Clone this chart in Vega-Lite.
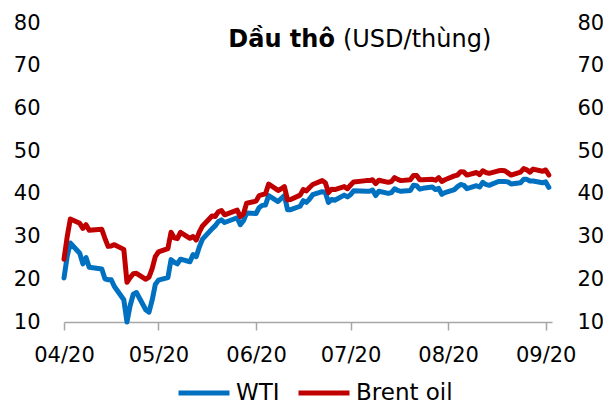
{
  "$schema": "https://vega.github.io/schema/vega-lite/v6.json",
  "width": 488,
  "height": 299,
  "autosize": {"type": "none"},
  "padding": {"left": 64, "top": 23, "right": 51, "bottom": 83},
  "background": "white",
  "config": {
    "view": {"stroke": null},
    "font": "DejaVu Sans",
    "axis": {"labelFont": "DejaVu Sans", "labelColor": "#000000", "grid": false, "title": null},
    "legend": {"labelFont": "DejaVu Sans", "labelColor": "#000000"}
  },
  "data": {
    "values": [
      {"date": "2020-04-01", "WTI": 20.3, "Brent oil": 24.7},
      {"date": "2020-04-02", "WTI": 25.3, "Brent oil": 29.9},
      {"date": "2020-04-03", "WTI": 28.5, "Brent oil": 34.1},
      {"date": "2020-04-06", "WTI": 26.1, "Brent oil": 33.1},
      {"date": "2020-04-07", "WTI": 23.6, "Brent oil": 31.9},
      {"date": "2020-04-08", "WTI": 25.1, "Brent oil": 32.8},
      {"date": "2020-04-09", "WTI": 22.8, "Brent oil": 31.5},
      {"date": "2020-04-13", "WTI": 22.4, "Brent oil": 31.7},
      {"date": "2020-04-14", "WTI": 20.1, "Brent oil": 29.6},
      {"date": "2020-04-15", "WTI": 19.9, "Brent oil": 27.7},
      {"date": "2020-04-16", "WTI": 19.9, "Brent oil": 27.8},
      {"date": "2020-04-17", "WTI": 18.3, "Brent oil": 28.1},
      {"date": "2020-04-20", "WTI": 15.2, "Brent oil": 27.0},
      {"date": "2020-04-21", "WTI": 10.0, "Brent oil": 19.3},
      {"date": "2020-04-22", "WTI": 13.8, "Brent oil": 20.4},
      {"date": "2020-04-23", "WTI": 16.5, "Brent oil": 21.3},
      {"date": "2020-04-24", "WTI": 16.9, "Brent oil": 21.4},
      {"date": "2020-04-27", "WTI": 12.8, "Brent oil": 20.0},
      {"date": "2020-04-28", "WTI": 12.3, "Brent oil": 20.5},
      {"date": "2020-04-29", "WTI": 15.1, "Brent oil": 22.5},
      {"date": "2020-04-30", "WTI": 18.8, "Brent oil": 25.3},
      {"date": "2020-05-01", "WTI": 19.8, "Brent oil": 26.4},
      {"date": "2020-05-04", "WTI": 20.4, "Brent oil": 27.2},
      {"date": "2020-05-05", "WTI": 24.6, "Brent oil": 31.0},
      {"date": "2020-05-06", "WTI": 24.0, "Brent oil": 29.7},
      {"date": "2020-05-07", "WTI": 23.6, "Brent oil": 29.5},
      {"date": "2020-05-08", "WTI": 24.7, "Brent oil": 31.0},
      {"date": "2020-05-11", "WTI": 24.1, "Brent oil": 29.6},
      {"date": "2020-05-12", "WTI": 25.8, "Brent oil": 30.0},
      {"date": "2020-05-13", "WTI": 25.3, "Brent oil": 29.2},
      {"date": "2020-05-14", "WTI": 27.6, "Brent oil": 31.1},
      {"date": "2020-05-15", "WTI": 29.4, "Brent oil": 32.5},
      {"date": "2020-05-18", "WTI": 31.8, "Brent oil": 34.8},
      {"date": "2020-05-19", "WTI": 32.5, "Brent oil": 34.7},
      {"date": "2020-05-20", "WTI": 33.5, "Brent oil": 35.8},
      {"date": "2020-05-21", "WTI": 33.9, "Brent oil": 36.1},
      {"date": "2020-05-22", "WTI": 33.3, "Brent oil": 35.1},
      {"date": "2020-05-26", "WTI": 34.4, "Brent oil": 36.2},
      {"date": "2020-05-27", "WTI": 32.8, "Brent oil": 34.7},
      {"date": "2020-05-28", "WTI": 33.7, "Brent oil": 35.3},
      {"date": "2020-05-29", "WTI": 35.5, "Brent oil": 37.8},
      {"date": "2020-06-01", "WTI": 35.4, "Brent oil": 38.3},
      {"date": "2020-06-02", "WTI": 36.8, "Brent oil": 39.6},
      {"date": "2020-06-03", "WTI": 37.3, "Brent oil": 39.8},
      {"date": "2020-06-04", "WTI": 37.4, "Brent oil": 40.0},
      {"date": "2020-06-05", "WTI": 39.6, "Brent oil": 42.3},
      {"date": "2020-06-08", "WTI": 38.2, "Brent oil": 40.8},
      {"date": "2020-06-09", "WTI": 38.9, "Brent oil": 41.2},
      {"date": "2020-06-10", "WTI": 39.6, "Brent oil": 41.7},
      {"date": "2020-06-11", "WTI": 36.3, "Brent oil": 38.6},
      {"date": "2020-06-12", "WTI": 36.3, "Brent oil": 38.7},
      {"date": "2020-06-15", "WTI": 37.1, "Brent oil": 39.7},
      {"date": "2020-06-16", "WTI": 38.4, "Brent oil": 41.0},
      {"date": "2020-06-17", "WTI": 38.0, "Brent oil": 40.7},
      {"date": "2020-06-18", "WTI": 38.8, "Brent oil": 41.5},
      {"date": "2020-06-19", "WTI": 39.8, "Brent oil": 42.2},
      {"date": "2020-06-22", "WTI": 40.5, "Brent oil": 43.1},
      {"date": "2020-06-23", "WTI": 40.4, "Brent oil": 42.6},
      {"date": "2020-06-24", "WTI": 38.0, "Brent oil": 40.3},
      {"date": "2020-06-25", "WTI": 38.7, "Brent oil": 41.1},
      {"date": "2020-06-26", "WTI": 38.5, "Brent oil": 41.0},
      {"date": "2020-06-29", "WTI": 39.7, "Brent oil": 41.7},
      {"date": "2020-06-30", "WTI": 39.3, "Brent oil": 41.2},
      {"date": "2020-07-01", "WTI": 39.8, "Brent oil": 42.0},
      {"date": "2020-07-02", "WTI": 40.7, "Brent oil": 42.8},
      {"date": "2020-07-06", "WTI": 40.6, "Brent oil": 43.1},
      {"date": "2020-07-07", "WTI": 40.6, "Brent oil": 43.1},
      {"date": "2020-07-08", "WTI": 40.9, "Brent oil": 43.3},
      {"date": "2020-07-09", "WTI": 39.6, "Brent oil": 42.4},
      {"date": "2020-07-10", "WTI": 40.6, "Brent oil": 43.2},
      {"date": "2020-07-13", "WTI": 40.1, "Brent oil": 42.7},
      {"date": "2020-07-14", "WTI": 40.3, "Brent oil": 42.9},
      {"date": "2020-07-15", "WTI": 41.2, "Brent oil": 43.8},
      {"date": "2020-07-16", "WTI": 40.8, "Brent oil": 43.4},
      {"date": "2020-07-17", "WTI": 40.6, "Brent oil": 43.1},
      {"date": "2020-07-20", "WTI": 40.8, "Brent oil": 43.3},
      {"date": "2020-07-21", "WTI": 42.0, "Brent oil": 44.3},
      {"date": "2020-07-22", "WTI": 41.9, "Brent oil": 44.3},
      {"date": "2020-07-23", "WTI": 41.1, "Brent oil": 43.3},
      {"date": "2020-07-24", "WTI": 41.3, "Brent oil": 43.3},
      {"date": "2020-07-27", "WTI": 41.6, "Brent oil": 43.4},
      {"date": "2020-07-28", "WTI": 41.0, "Brent oil": 43.2},
      {"date": "2020-07-29", "WTI": 41.3, "Brent oil": 43.8},
      {"date": "2020-07-30", "WTI": 39.9, "Brent oil": 42.9},
      {"date": "2020-07-31", "WTI": 40.3, "Brent oil": 43.3},
      {"date": "2020-08-03", "WTI": 41.0, "Brent oil": 44.2},
      {"date": "2020-08-04", "WTI": 41.7, "Brent oil": 44.4},
      {"date": "2020-08-05", "WTI": 42.2, "Brent oil": 45.2},
      {"date": "2020-08-06", "WTI": 42.0, "Brent oil": 45.1},
      {"date": "2020-08-07", "WTI": 41.2, "Brent oil": 44.4},
      {"date": "2020-08-10", "WTI": 41.9, "Brent oil": 45.0},
      {"date": "2020-08-11", "WTI": 41.6, "Brent oil": 44.5},
      {"date": "2020-08-12", "WTI": 42.7, "Brent oil": 45.4},
      {"date": "2020-08-13", "WTI": 42.2, "Brent oil": 45.0},
      {"date": "2020-08-14", "WTI": 42.0, "Brent oil": 44.8},
      {"date": "2020-08-17", "WTI": 42.9, "Brent oil": 45.4},
      {"date": "2020-08-18", "WTI": 42.9, "Brent oil": 45.5},
      {"date": "2020-08-19", "WTI": 42.9, "Brent oil": 45.4},
      {"date": "2020-08-20", "WTI": 42.8, "Brent oil": 44.9},
      {"date": "2020-08-21", "WTI": 42.3, "Brent oil": 44.4},
      {"date": "2020-08-24", "WTI": 42.6, "Brent oil": 45.1},
      {"date": "2020-08-25", "WTI": 43.4, "Brent oil": 45.9},
      {"date": "2020-08-26", "WTI": 43.4, "Brent oil": 45.6},
      {"date": "2020-08-27", "WTI": 43.0, "Brent oil": 45.1},
      {"date": "2020-08-28", "WTI": 43.0, "Brent oil": 45.8},
      {"date": "2020-08-31", "WTI": 42.6, "Brent oil": 45.3},
      {"date": "2020-09-01", "WTI": 42.8, "Brent oil": 45.6},
      {"date": "2020-09-02", "WTI": 41.5, "Brent oil": 44.4}
    ]
  },
  "resolve": {"scale": {"y": "independent"}},
  "layer": [
    {
      "transform": [{"fold": ["WTI", "Brent oil"], "as": ["series", "price"]}],
      "mark": {"type": "line", "strokeWidth": 5, "strokeJoin": "round", "strokeCap": "round"},
      "encoding": {
        "x": {
          "field": "date",
          "type": "temporal",
          "scale": {"domain": [{"year": 2020, "month": 4, "date": 1}, {"year": 2020, "month": 9, "date": 3}]},
          "axis": {
            "values": [
              {"year": 2020, "month": 4, "date": 1},
              {"year": 2020, "month": 5, "date": 1},
              {"year": 2020, "month": 6, "date": 1},
              {"year": 2020, "month": 7, "date": 1},
              {"year": 2020, "month": 8, "date": 1},
              {"year": 2020, "month": 9, "date": 1}
            ],
            "format": "%m/%y",
            "labelFontSize": 21,
            "labelFlush": false,
            "labelOverlap": false,
            "labelBound": false,
            "tickSize": 8,
            "tickColor": "#a6a6a6",
            "tickWidth": 1.5,
            "domainColor": "#a6a6a6",
            "domainWidth": 1.5,
            "labelPadding": 14,
            "title": null
          }
        },
        "y": {
          "field": "price",
          "type": "quantitative",
          "scale": {"domain": [10, 80], "nice": false},
          "axis": {
            "orient": "left",
            "values": [10, 20, 30, 40, 50, 60, 70, 80],
            "domain": false,
            "ticks": false,
            "tickSize": 0,
            "labelFontSize": 21,
            "labelPadding": 24,
            "title": null
          }
        },
        "color": {
          "field": "series",
          "type": "nominal",
          "scale": {"domain": ["WTI", "Brent oil"], "range": ["#0070C0", "#C00000"]},
          "legend": {
            "orient": "none",
            "legendX": 112,
            "legendY": 342,
            "direction": "horizontal",
            "title": null,
            "symbolType": "stroke",
            "symbolStrokeWidth": 5,
            "symbolSize": 2601,
            "labelFontSize": 23,
            "labelOffset": 4,
            "columnPadding": 8
          }
        }
      }
    },
    {
      "data": {"values": [{}]},
      "mark": {"type": "text", "text": "Dầu thô", "fontWeight": "bold", "fontSize": 24, "align": "right", "baseline": "alphabetic", "dx": -3, "color": "#000000"},
      "encoding": {
        "x": {"datum": {"year": 2020, "month": 6, "date": 27}, "type": "temporal"},
        "y": {
          "datum": 74.4,
          "type": "quantitative",
          "scale": {"domain": [10, 80], "nice": false},
          "axis": {
            "orient": "right",
            "values": [10, 20, 30, 40, 50, 60, 70, 80],
            "domain": false,
            "ticks": false,
            "tickSize": 0,
            "labelFontSize": 21,
            "labelPadding": 25,
            "title": null
          }
        }
      }
    },
    {
      "data": {"values": [{}]},
      "mark": {"type": "text", "text": "(USD/thùng)", "fontSize": 24, "align": "left", "baseline": "alphabetic", "dx": 5, "color": "#000000"},
      "encoding": {
        "x": {"datum": {"year": 2020, "month": 6, "date": 27}, "type": "temporal"},
        "y": {"datum": 74.4, "type": "quantitative", "scale": {"domain": [10, 80], "nice": false}, "axis": null}
      }
    }
  ]
}
